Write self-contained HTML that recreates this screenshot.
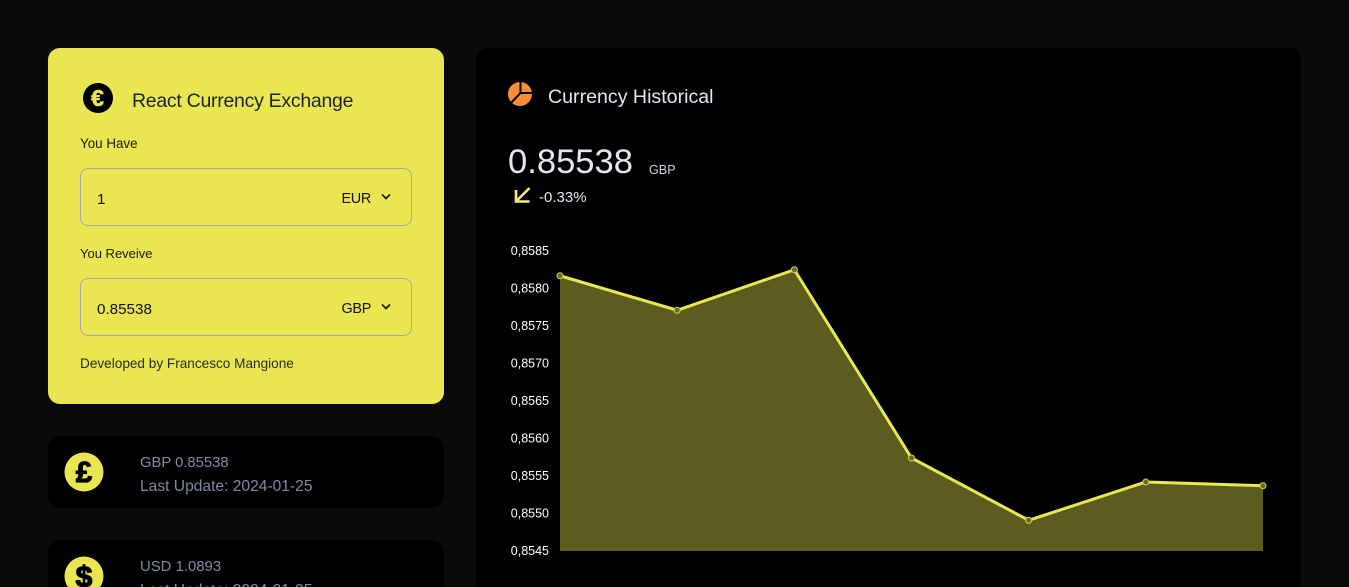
<!DOCTYPE html>
<html lang="en">
<head>
<meta charset="utf-8">
<title>React Currency Exchange</title>
<style>
html,body{margin:0;padding:0;width:1349px;height:587px;overflow:hidden;background:#0a0a0c;font-family:"Liberation Sans",sans-serif}
body{position:relative}
.abs{position:absolute;white-space:nowrap}
.panel{position:absolute;border-radius:12px}
.field{position:absolute;left:80px;width:330px;height:56px;border:1px solid #a3a8a8;border-radius:8px}
.sec{color:#7f8ba3;left:140px}
svg text{font-family:"Liberation Sans",sans-serif}
</style>
</head>
<body>
<div class="panel" style="left:48px;top:48px;width:396px;height:356px;background:#eae651"></div>
<svg class="abs" style="left:82px;top:82px" width="32" height="32"><circle cx="16" cy="16" r="15" fill="#000"/><text x="15.5" y="24" font-size="23" font-weight="bold" fill="#eae651" stroke="#eae651" stroke-width="0.6" text-anchor="middle">€</text></svg>
<div class="abs" style="left:132px;top:89px;font-size:19.5px;line-height:24px;letter-spacing:-0.28px;color:#1c2333">React Currency Exchange</div>
<div class="abs" style="left:80px;top:136px;font-size:13.4px;line-height:16px;color:#1c1c10">You Have</div>
<div class="field" style="top:168px"></div>
<div class="abs" style="left:97px;top:190px;font-size:15.2px;line-height:19px;color:#111">1</div>
<div class="abs" style="left:341.5px;top:190px;font-size:14.4px;line-height:19px;letter-spacing:-0.3px;color:#111">EUR</div>
<svg class="abs" style="left:381px;top:193px" width="10" height="8"><path d="M1 1.5L5 5.5L9 1.5" fill="none" stroke="#111" stroke-width="1.6"/></svg>
<div class="abs" style="left:80px;top:246px;font-size:13px;line-height:16px;color:#1c1c10">You Reveive</div>
<div class="field" style="top:278px"></div>
<div class="abs" style="left:97px;top:300px;font-size:15.2px;line-height:19px;color:#111">0.85538</div>
<div class="abs" style="left:341.5px;top:300px;font-size:14.4px;line-height:19px;letter-spacing:-0.3px;color:#111">GBP</div>
<svg class="abs" style="left:381px;top:303px" width="10" height="8"><path d="M1 1.5L5 5.5L9 1.5" fill="none" stroke="#111" stroke-width="1.6"/></svg>
<div class="abs" style="left:80px;top:355px;font-size:13.6px;line-height:17px;color:#2a2d20">Developed by Francesco Mangione</div>

<div class="panel" style="left:48px;top:436px;width:396px;height:72px;background:#000"></div>
<svg class="abs" style="left:64px;top:452px" width="40" height="40"><circle cx="20" cy="20" r="19.5" fill="#eae651"/><text x="20" y="30" font-size="29" font-weight="bold" fill="#000" stroke="#000" stroke-width="1.2" text-anchor="middle">£</text></svg>
<div class="abs sec" style="top:454px;line-height:19px;font-size:14.8px">GBP 0.85538</div>
<div class="abs sec" style="top:477px;line-height:19px;font-size:15.6px">Last Update: 2024-01-25</div>

<div class="panel" style="left:48px;top:540px;width:396px;height:47px;background:#000;border-radius:12px 12px 0 0"></div>
<svg class="abs" style="left:64px;top:556px" width="40" height="31"><circle cx="20" cy="20" r="19.5" fill="#eae651"/><text x="20" y="31" font-size="30" font-weight="bold" fill="#000" stroke="#000" stroke-width="1.2" text-anchor="middle">$</text></svg>
<div class="abs sec" style="top:558px;line-height:19px;font-size:14.9px">USD 1.0893</div>
<div class="abs sec" style="top:581px;height:6px;overflow:hidden;line-height:19px;font-size:15.6px">Last Update: 2024-01-25</div>

<div class="panel" style="left:476px;top:48px;width:825px;height:539px;background:#000;border-radius:12px 12px 0 0"></div>
<svg class="abs" style="left:508px;top:81px" width="25" height="25"><circle cx="12" cy="13" r="12" fill="#f98e36"/><path d="M12.5 0V12H25M12.5 12L3 22" fill="none" stroke="#000" stroke-width="2"/></svg>
<div class="abs" style="left:548px;top:85px;font-size:19.6px;line-height:24px;color:#e2e8f0">Currency Historical</div>
<div class="abs" style="left:508px;top:141px;font-size:34.6px;line-height:42px;color:#e2e8f0">0.85538</div>
<div class="abs" style="left:649px;top:162px;font-size:12.6px;line-height:16px;color:#cbd5e1">GBP</div>
<svg class="abs" style="left:514px;top:186px" width="18" height="18"><path d="M15.5 2L3 14.5M2 4V15.5H15.5" fill="none" stroke="#fde97f" stroke-width="2.6"/></svg>
<div class="abs" style="left:539px;top:188px;font-size:15px;line-height:19px;color:#e2e8f0">-0.33%</div>

<svg id="chart" class="abs" style="left:0;top:0" width="1349" height="587"></svg>

<script>
const dates = ["2024-01-19","2024-01-20","2024-01-21","2024-01-22","2024-01-23","2024-01-24","2024-01-25"];
const rates = [0.85817,0.85771,0.85825,0.85574,0.85491,0.85542,0.85537];
const yTicks = [0.8585,0.8580,0.8575,0.8570,0.8565,0.8560,0.8555,0.8550,0.8545];
const yTickLabels = ["0,8585","0,8580","0,8575","0,8570","0,8565","0,8560","0,8555","0,8550","0,8545"];

const svgNS = "http://www.w3.org/2000/svg";
const chart = document.getElementById("chart");
const plot = {left:560, right:1263, top:251, bottom:551};
const yMin = yTicks[yTicks.length-1], yMax = yTicks[0];
function xScale(i){ return plot.left + i*(plot.right-plot.left)/(dates.length-1); }
function yScale(v){ return plot.bottom - (v-yMin)/(yMax-yMin)*(plot.bottom-plot.top); }

yTicks.forEach(function(t,i){
  const label = document.createElementNS(svgNS,"text");
  
  
  label.setAttribute("x",549);
  label.setAttribute("y",yScale(t)+4);
  label.setAttribute("text-anchor","end");
  label.setAttribute("font-size","12.5");
  label.setAttribute("fill","#fff");
  label.textContent = yTickLabels[i];
  chart.appendChild(label);
});

const linePts = rates.map(function(v,i){ return xScale(i)+","+yScale(v); }).join(" ");
const area = document.createElementNS(svgNS,"polygon");


area.setAttribute("points",plot.left+","+plot.bottom+" "+linePts+" "+plot.right+","+plot.bottom);
area.setAttribute("fill","#5c5b20");
chart.appendChild(area);

const line = document.createElementNS(svgNS,"polyline");


line.setAttribute("points",linePts);
line.setAttribute("fill","none");
line.setAttribute("stroke","#eae84f");
line.setAttribute("stroke-width","3");
chart.appendChild(line);

rates.forEach(function(v,i){
  const dot = document.createElementNS(svgNS,"circle");
  
  
  dot.setAttribute("cx",xScale(i));
  dot.setAttribute("cy",yScale(v));
  dot.setAttribute("r","3");
  dot.setAttribute("fill","#6b6a25");
  dot.setAttribute("stroke","#d6d44a");
  dot.setAttribute("stroke-width","1");
  chart.appendChild(dot);
});
</script>
</body>
</html>
